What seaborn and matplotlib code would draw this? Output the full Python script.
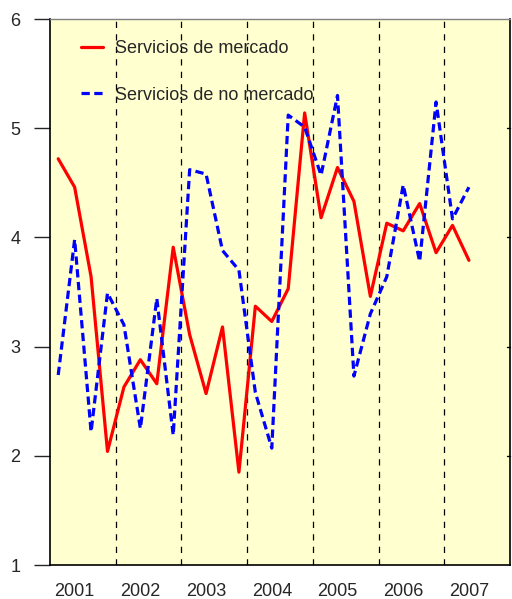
import matplotlib
matplotlib.use("Agg")
import matplotlib.pyplot as plt
import seaborn as sns
import pandas as pd
import numpy as np

quarters = [f"{y}Q{q}" for y in range(2001, 2008) for q in range(1, 5)][:26]
mercado = [4.72, 4.46, 3.64, 2.04, 2.63, 2.88, 2.66, 3.91, 3.11, 2.57, 3.18, 1.85, 3.37,
           3.23, 3.53, 5.14, 4.18, 4.64, 4.33, 3.46, 4.13, 4.06, 4.31, 3.86, 4.11, 3.79]
no_mercado = [2.74, 3.98, 2.22, 3.49, 3.20, 2.25, 3.44, 2.19, 4.62, 4.58, 3.88, 3.70, 2.58,
              2.07, 5.12, 5.01, 4.57, 5.30, 2.73, 3.30, 3.64, 4.48, 3.78, 5.24, 4.17, 4.46]
year_labels = ["2001", "2002", "2003", "2004", "2005", "2006", "2007"]
series_names = ["Servicios de mercado", "Servicios de no mercado"]

sns.set_theme(style="white")
plt.rcParams['font.family'] = ['Liberation Sans', 'DejaVu Sans']

df = pd.DataFrame({
    "idx": list(range(len(quarters))) * 2,
    "valor": mercado + no_mercado,
    "serie": [series_names[0]] * len(mercado) + [series_names[1]] * len(no_mercado),
})

fig = plt.figure(figsize=(5.12, 5.99), dpi=100)
ax = fig.add_axes([50/512, 34/599, 460/512, 546/599])
ax.set_facecolor("#FFFFCF")

sns.lineplot(data=df, x="idx", y="valor", hue="serie", style="serie",
             palette={series_names[0]: "#FF0000", series_names[1]: "#0000FF"},
             dashes={series_names[0]: "", series_names[1]: (2.6, 1.4)},
             linewidth=2.3, ax=ax, legend=True)

for yr in range(1, 7):
    ax.axvline(yr * 4 - 0.5, color="black", lw=0.9, ls=(0, (5, 5)), zorder=1)

ax.set_xlim(-0.5, 27.5)
ax.set_ylim(1, 6)
ax.set_xticks([1 + 4 * i for i in range(len(year_labels))])
ax.set_xticklabels(year_labels, fontsize=13)
ax.set_yticks([1, 2, 3, 4, 5, 6])
ax.set_yticklabels(["1", "2", "3", "4", "5", "6"], fontsize=13)
ax.tick_params(axis="x", length=0, pad=13)
ax.tick_params(axis="y", direction="out", length=11.5, width=1, pad=10, left=True, right=False)
ax.set_xlabel("")
ax.set_ylabel("")

for s in ["left", "bottom", "right"]:
    ax.spines[s].set_color("black")
    ax.spines[s].set_linewidth(1.2)
ax.spines["top"].set_color("#808080")
ax.spines["top"].set_linewidth(1.0)

# right inner ticks
for v in [2, 3, 4, 5]:
    ax.plot([27.3, 27.5], [v, v], color="black", lw=1, clip_on=False)

h, l = ax.get_legend_handles_labels()
leg = ax.legend(h, l, loc="upper left", frameon=False, fontsize=13,
                handlelength=1.2, handletextpad=0.65, labelspacing=1.65,
                bbox_to_anchor=(0.041, 0.985), borderaxespad=0.3)

fig.savefig("out.png", dpi=100)
